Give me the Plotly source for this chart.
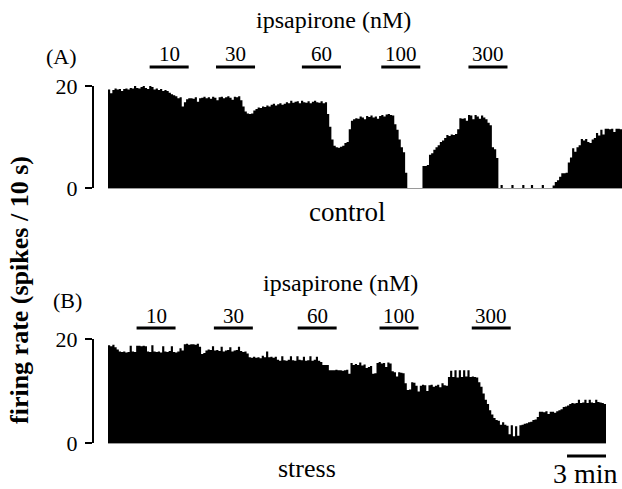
import plotly.graph_objects as go

# ---------------- data (spikes per 10 s bin) ----------------
control_rate = [
    19.3, 18.6, 19.2, 19.5, 19.3, 19.4, 19.0, 19.4, 19.5, 19.3, 19.6, 19.5, 20.0, 19.6, 19.5, 19.8, 20.1, 19.6, 19.4, 20.0, 19.8, 19.3, 19.5, 19.2, 19.4, 19.0, 19.2,
    19.0, 18.7, 18.4, 18.2, 18.0, 17.6, 17.8,
    16.0,
    16.8, 17.4, 17.6, 17.6, 17.5, 17.8, 16.9, 17.6, 17.7, 17.9, 17.6, 17.8, 17.5, 17.9, 17.7, 17.2, 17.8, 17.9, 17.6, 17.8, 18.0, 17.7, 17.3, 17.9, 17.8,
    18.0, 17.2, 16.0, 15.0, 14.6, 14.5,
    14.6, 15.2, 15.5, 15.8, 15.7, 16.0, 15.9,
    16.2, 16.0, 16.3, 16.5, 16.2, 16.4, 16.6, 16.3, 16.5,
    16.8, 16.6, 17.1, 16.7, 16.9, 17.0, 16.6, 17.1, 16.8, 16.7, 17.0, 16.6, 16.9, 17.1, 16.8, 16.7, 17.0, 16.6, 16.8,
    14.5, 12.0, 9.5, 8.3,
    8.0, 7.9, 8.1, 8.3, 8.8,
    9.0, 11.5, 13.2, 13.5,
    13.7, 13.6, 14.0, 13.8, 13.5, 14.1, 13.9, 14.2, 13.8, 14.0, 13.6, 14.1, 14.3, 14.0, 14.4, 14.5, 14.3, 14.2,
    12.5, 11.4, 9.5, 8.0, 7.0, 3.0, 0.0,
    0.0, 0.0, 0.0, 0.0, 0.0, 0.0,
    4.3, 4.3,
    4.5, 6.5, 6.8, 7.5, 8.0, 8.4, 9.0, 9.3, 9.8, 10.4, 10.2, 10.5, 10.4, 10.6, 11.5,
    13.7, 13.6, 13.7, 13.2, 14.3, 14.2, 13.5, 14.3, 14.0, 13.6, 14.2, 13.8, 13.5, 12.8, 12.3,
    8.0, 7.6, 5.9,
    0.0, 0.6, 0.0, 0.0, 0.0, 0.0, 0.6, 0.0, 0.0, 0.0, 0.0, 0.6, 0.0, 0.0, 0.0, 0.6, 0.0, 0.0, 0.0, 0.0, 0.6, 0.0, 0.0, 0.0, 0.0,
    0.5, 1.2, 1.5, 2.2, 2.9, 2.9, 3.0, 5.0, 6.0, 7.8, 7.1, 8.0, 8.4, 9.6, 9.3, 9.6, 9.0, 8.8, 9.5, 9.8, 10.8, 10.3, 11.4, 10.5, 11.6, 11.6, 11.5, 11.6, 11.0, 11.6, 11.6, 11.5,
]

stress_rate = [
    18.8, 18.6, 18.9, 18.4, 18.0, 17.6, 17.5, 17.6, 17.4, 17.5, 18.7, 17.6, 17.5, 18.7, 18.7, 18.6, 18.7, 18.6, 17.6, 17.5, 18.8, 17.6, 17.5, 17.6, 17.4, 18.6, 17.6, 17.5, 17.7, 18.6, 17.5, 17.4, 17.6, 18.2, 17.8,
    19.0, 19.1, 18.9, 19.0, 19.0, 18.9, 19.1, 18.5,
    17.1, 17.3, 17.8, 18.0, 17.9, 18.6, 17.8, 17.9, 17.7, 18.5, 17.6, 17.8, 17.9, 18.4, 17.6, 17.8, 17.9, 18.5, 17.7, 17.5, 17.6, 17.2,
    16.5, 16.4, 16.6, 16.4, 16.5, 16.3, 16.8, 16.5, 17.6, 16.5, 16.6, 16.4, 16.6,
    16.0, 15.8, 16.7, 15.9, 15.8, 16.0, 16.7, 15.9, 15.8, 16.7, 16.0, 15.9, 16.6, 15.8, 15.9, 16.7, 15.8, 16.0, 16.6, 15.8, 15.6, 15.0, 15.0, 15.0,
    14.0, 14.0, 14.0, 14.1, 14.0, 14.0, 13.9, 14.0, 14.1, 13.3, 15.4,
    15.0, 15.2, 15.0, 15.5, 14.9, 15.1, 14.4, 14.6, 14.8, 13.3,
    13.4, 15.4, 15.6, 15.3, 15.4, 14.6, 15.5, 15.3, 13.8, 13.6, 12.8, 13.6, 13.5, 13.4,
    11.5, 10.2, 10.3, 11.7, 11.6, 11.0, 9.9, 11.0, 11.2, 11.1, 10.0, 11.1, 11.2, 10.8, 11.0, 11.2, 10.7, 11.5, 11.1, 11.0,
    12.7, 13.9, 12.7, 14.0, 12.6, 14.0, 12.7, 14.0, 12.8, 14.0, 12.7, 12.8, 12.7, 12.6,
    11.7, 10.8,
    9.5, 8.3, 7.5, 6.3, 5.5, 4.8, 4.4, 4.3, 3.5, 4.0, 3.5,
    3.3, 1.7, 3.4, 1.3, 3.2, 1.4, 3.4, 3.5,
    3.7, 3.8, 4.0, 4.1, 4.4, 4.5, 5.0, 6.0,
    6.0, 5.9, 6.1, 5.6, 6.0, 6.0, 5.8, 6.1, 6.3,
    6.5, 6.9, 7.0, 7.2, 7.5, 7.7, 7.6,
    7.7, 8.3, 7.7, 7.8, 8.3, 7.7, 8.3, 7.8, 7.7, 8.3, 7.9, 7.8, 7.7, 7.5,
]

bin_min = 10 / 60.0           # 10 s bins, x axis in minutes
doses = ["10", "30", "60", "100", "300"]
dose_start_control = [3.2, 8.3, 14.9, 21.0, 27.7]   # min
dose_start_stress = [2.2, 8.15, 14.6, 20.9, 28.0]   # min
dose_duration = 3.0                                  # min
scale_bar_min = 3.0
y_ticks = [0, 20]

# ---------------- layout helpers ----------------
W, H = 622, 489
def fx(px):
    return px / W
def fy(py):
    return 1 - py / H

FONT = "Liberation Serif"

def step_xy(vals):
    xs = [i * bin_min for i in range(len(vals) + 1)]
    ys = list(vals) + [vals[-1]]
    return xs, ys

fig = go.Figure()

xa, ya = step_xy(control_rate)
fig.add_trace(go.Scatter(x=xa, y=ya, mode="lines", line_shape="hv",
                         line=dict(width=0, color="black"), fill="tozeroy",
                         fillcolor="black", xaxis="x", yaxis="y", hoverinfo="skip"))
xb, yb = step_xy(stress_rate)
fig.add_trace(go.Scatter(x=xb, y=yb, mode="lines", line_shape="hv",
                         line=dict(width=0, color="black"), fill="tozeroy",
                         fillcolor="black", xaxis="x2", yaxis="y2", hoverinfo="skip"))

n_a = len(control_rate) * bin_min
n_b = len(stress_rate) * bin_min

yax_common = dict(range=[0, 20], tickvals=y_ticks, showline=True, linewidth=2.2,
                  linecolor="black", ticks="outside", ticklen=7, tickwidth=2.2,
                  tickcolor="black", showgrid=False, zeroline=False,
                  tickfont=dict(family=FONT, size=22, color="black"),
                  anchor="free", position=fx(93), ticklabelstandoff=3,
                  automargin=False, fixedrange=True)
xax_common = dict(showline=True, linecolor="#9a9a9a", linewidth=1, showticklabels=False,
                  ticks="", showgrid=False, zeroline=False, automargin=False, fixedrange=True)

fig.update_layout(
    width=W, height=H,
    margin=dict(l=0, r=0, t=0, b=0, pad=0, autoexpand=False),
    paper_bgcolor="white", plot_bgcolor="white",
    showlegend=False,
    xaxis=dict(domain=[fx(108), fx(622)], range=[0, n_a], anchor="y", **xax_common),
    yaxis=dict(domain=[fy(188), fy(86)], **yax_common),
    xaxis2=dict(domain=[fx(108), fx(606)], range=[0, n_b], anchor="y2", **xax_common),
    yaxis2=dict(domain=[fy(443), fy(339)], **yax_common),
)

shapes = []
annotations = []

def txt(text, x, y, size, xref="paper", bold=False, xanchor="center"):
    annotations.append(dict(text=("<b>%s</b>" % text) if bold else text, x=x, y=y,
                            xref=xref, yref="paper", showarrow=False,
                            xanchor=xanchor, yanchor="middle",
                            font=dict(family=FONT, size=size, color="black")))

for starts, xref, bar_py, lab_py in [(dose_start_control, "x", 67, 54),
                                     (dose_start_stress, "x2", 328, 316)]:
    for d, s in zip(doses, starts):
        shapes.append(dict(type="line", xref=xref, yref="paper", x0=s, x1=s + dose_duration,
                           y0=fy(bar_py), y1=fy(bar_py), line=dict(color="black", width=3)))
        txt(d, s + dose_duration / 2, fy(lab_py), 21, xref=xref)

txt("ipsapirone (nM)", fx(333), fy(20), 24)
txt("ipsapirone (nM)", fx(340), fy(283), 24)
txt("(A)", fx(61), fy(56), 22)
txt("(B)", fx(67), fy(300), 22)
txt("control", fx(347), fy(212), 27)
txt("stress", fx(307), fy(468), 26)
txt("3 min", fx(585), fy(473), 28)

# scale bar (3 min) under end of stress trace
shapes.append(dict(type="line", xref="x2", yref="paper", x0=n_b - scale_bar_min, x1=n_b,
                   y0=fy(456), y1=fy(456), line=dict(color="black", width=3)))

annotations.append(dict(text="<b>firing rate (spikes / 10 s)</b>", x=fx(19), y=fy(290),
                        xref="paper", yref="paper", showarrow=False, textangle=-90,
                        xanchor="center", yanchor="middle",
                        font=dict(family=FONT, size=26, color="black")))

fig.update_layout(shapes=shapes, annotations=annotations)
fig.write_html("out.html",
               config={"displayModeBar": False, "staticPlot": True},
               post_script="document.body.style.margin='0';document.body.style.padding='0';"
                           "document.body.style.overflow='hidden';")
